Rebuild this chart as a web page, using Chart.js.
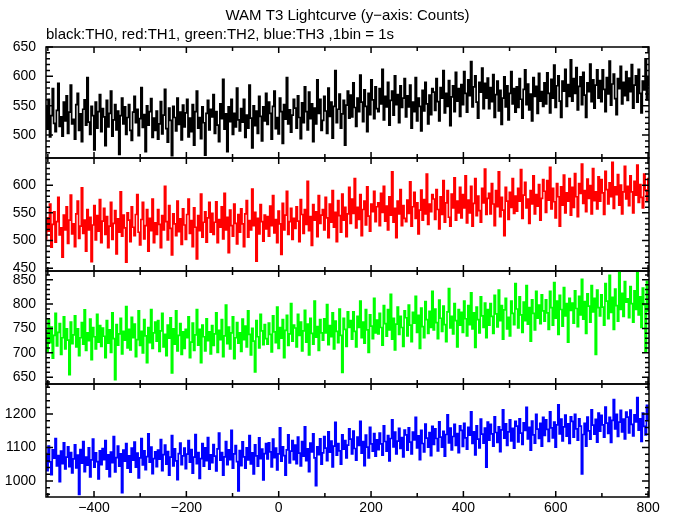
<!DOCTYPE html>
<html>
<head>
<meta charset="utf-8">
<script src="https://cdn.jsdelivr.net/npm/chart.js@4.4.1/dist/chart.umd.min.js"></script>
<style>
  html, body { margin: 0; padding: 0; background: #fff; }
  #wrap { position: relative; width: 674px; height: 515px; overflow: hidden; }
  canvas { position: absolute; left: 0; }
</style>
</head>
<body>
<div id="wrap">
  <canvas id="p0" width="674" height="168" style="top:0px"></canvas>
  <canvas id="p1" width="674" height="133" style="top:148px"></canvas>
  <canvas id="p2" width="674" height="133" style="top:261px"></canvas>
  <canvas id="p3" width="674" height="141" style="top:374px"></canvas>
</div>
<script>
// time bins (seconds), first bin and bin spacing
const binStart = -504;
const binWidth = 3;

// TH0 counts (black)
const th0 = [
  548,512,561,497,533,579,520,506,542,588,515,531,498,556,524,567,503,539,585,519,
  527,493,552,571,508,536,489,544,560,517,598,522,501,549,533,475,556,512,540,569,
  506,545,531,482,559,514,537,575,498,526,552,509,541,467,533,563,519,548,501,530,
  552,508,491,539,566,521,544,499,528,581,513,535,472,550,517,540,562,496,529,508,
  541,493,519,557,502,534,578,511,488,546,525,465,549,530,507,563,518,539,492,551,
  514,538,561,497,529,506,552,483,540,575,512,530,494,548,521,466,537,559,509,544,
  531,569,503,540,517,489,553,528,595,510,536,472,548,523,561,501,537,514,580,526,
  507,545,522,561,496,534,512,585,529,478,550,516,541,503,566,532,490,548,524,571,
  518,556,537,493,549,575,511,530,502,563,540,486,552,527,598,519,543,505,534,561,
  546,512,567,530,494,555,521,582,540,509,573,528,553,489,546,519,594,537,561,508,
  525,566,541,503,580,532,556,495,549,610,521,544,570,512,536,559,483,551,575,529,
  568,531,589,547,515,563,540,602,556,523,577,549,506,571,535,594,560,528,582,545,
  540,579,553,612,526,566,548,590,517,559,575,534,601,552,569,521,584,547,563,596,
  531,567,548,585,512,556,540,598,524,563,549,507,576,541,590,553,519,568,535,579,
  573,542,596,557,524,581,563,610,538,571,549,593,516,565,584,540,607,558,579,532,
  586,552,608,571,539,594,567,625,548,582,601,556,529,590,573,614,545,588,563,597,
  545,581,557,603,530,569,592,541,576,518,563,599,548,584,526,571,608,553,579,539,
  582,547,596,561,529,578,611,552,587,543,570,524,598,566,583,537,605,558,574,549,
  589,553,606,571,538,595,563,619,547,584,601,558,530,592,575,612,549,586,566,628,
  558,596,571,615,543,583,599,552,607,568,530,589,574,621,557,594,546,585,611,563,
  593,557,611,578,540,598,570,626,551,587,604,562,535,596,579,617,553,590,567,608,
  559,597,574,620,546,585,601,556,612,571,538,592,577,630,560,598,585
];

// TH1 counts (red)
const th1 = [
  503,541,517,566,488,529,552,497,534,578,510,523,470,546,519,561,495,537,582,512,
  530,489,548,571,504,526,595,513,537,481,556,519,542,462,528,563,501,545,517,574,
  496,535,558,511,543,487,526,569,502,531,554,476,539,515,588,508,546,523,461,550,
  537,498,561,524,509,547,583,515,492,538,569,503,527,556,481,540,518,575,496,532,
  511,556,529,487,545,519,598,534,501,563,522,474,548,530,509,571,516,539,493,557,
  528,502,547,575,513,536,489,559,524,467,545,518,584,506,533,552,497,541,569,515,
  549,511,533,570,496,538,524,561,503,585,519,542,478,555,527,508,566,531,494,547,
  515,557,530,489,548,572,506,536,519,593,527,551,463,540,512,565,534,499,546,521,
  543,508,562,527,581,514,538,496,553,530,475,567,519,546,589,511,534,558,502,540,
  522,561,535,498,574,547,513,556,529,607,518,543,491,565,537,552,507,581,531,546,
  556,519,578,541,505,566,533,590,524,551,498,572,545,515,584,537,560,507,548,596,
  531,575,549,612,523,560,538,583,509,556,571,528,597,544,517,566,552,589,534,561,
  568,527,585,551,598,535,562,519,579,546,624,533,558,505,571,548,592,527,563,540,
  534,573,549,606,526,561,587,540,568,512,555,591,537,574,548,620,529,566,552,583,
  575,538,592,556,521,579,547,608,533,568,590,542,526,584,559,613,537,571,550,596,
  541,583,559,617,532,573,550,598,526,567,612,545,580,554,533,594,568,629,547,576,
  585,548,603,566,527,590,561,624,543,578,555,509,596,571,538,587,560,612,549,580,
  553,594,571,628,540,582,605,559,575,531,590,566,617,548,583,562,601,537,576,610,
  589,551,608,573,632,557,594,570,541,603,579,526,597,564,618,550,586,571,612,546,
  596,560,621,579,543,603,585,638,567,590,552,611,576,599,548,630,572,588,557,615,
  571,610,586,547,625,592,566,604,579,641,558,597,583,619,564,600,548,588,634,575,
  598,563,617,588,550,607,582,636,569,601,578,559,620,591,572,612,586
];

// TH2 counts (green)
const th2 = [
  745,702,768,721,753,689,736,781,714,742,760,697,731,774,708,749,726,655,763,719,
  737,776,712,749,694,731,762,718,788,705,741,725,769,686,752,733,708,779,722,756,
  713,751,734,690,766,720,747,701,782,729,645,758,716,739,771,698,744,726,795,710,
  748,706,773,731,759,692,727,786,715,744,700,768,735,680,752,721,789,709,741,763,
  724,766,703,745,781,712,738,694,757,730,772,659,749,718,786,704,736,760,697,743,
  709,748,731,774,690,722,761,705,737,789,716,748,680,757,733,704,770,725,743,698,
  756,715,739,782,701,746,727,768,692,735,798,719,753,708,741,774,688,731,762,720,
  741,703,769,727,755,712,786,738,696,750,724,661,766,733,710,779,745,717,758,729,
  718,761,738,702,776,743,721,794,709,752,730,768,690,746,777,715,739,801,724,757,
  751,712,779,736,763,704,745,787,722,759,696,771,740,718,806,732,754,705,768,741,
  726,770,741,799,717,756,733,782,708,765,744,721,790,736,660,771,748,713,784,752,
  766,728,784,744,712,775,752,806,731,763,720,789,747,701,778,755,729,812,741,767,
  739,781,752,716,797,760,734,789,747,820,728,771,706,759,794,738,775,752,713,786,
  772,735,798,757,723,783,761,816,742,777,709,792,754,731,805,768,740,785,752,826,
  747,790,762,729,808,771,744,796,758,723,784,832,751,775,739,801,766,712,789,757,
  783,742,806,770,735,797,758,823,749,782,711,794,768,741,815,776,752,802,731,789,
  757,801,775,740,818,780,753,829,766,797,728,788,812,749,773,735,806,781,758,842,
  790,751,815,778,742,804,766,838,759,793,724,809,781,747,826,771,798,760,819,786,
  765,809,782,748,826,793,757,844,771,806,738,818,789,755,834,776,801,722,812,787,
  802,761,827,791,754,816,778,851,769,805,740,821,796,763,838,784,812,697,829,793,
  776,819,794,757,842,806,770,859,783,814,748,831,797,765,870,789,822,775,846,804,
  811,772,836,801,763,827,789,864,778,815,752,833,799,702,847,786,820
];

// TH3 counts (blue)
const th3 = [
  1082,1031,1104,1057,1019,1093,1068,1127,1045,1076,998,1089,1052,1114,1036,1071,1102,1043,1085,1024,
  1066,1108,1039,1077,960,1094,1053,1118,1028,1071,1047,1099,1012,1063,1125,1041,1084,1058,1006,1090,
  1049,1097,1064,1121,1035,1078,1013,1086,1055,1133,1027,1070,1104,1044,1081,965,1092,1059,1112,1038,
  1075,1026,1098,1062,1116,1041,1083,1009,1069,1127,1048,1090,1034,1073,1141,1056,1101,1022,1067,1087,
  1043,1092,1065,1124,1031,1079,1107,1050,1088,1017,1071,1136,1045,1096,1060,1004,1082,1113,1049,1075,
  1098,1037,1080,1121,1056,1094,1023,1071,1139,1052,1085,1008,1067,1112,1044,1099,1061,1130,1035,1078,
  1055,1109,1074,1030,1096,1143,1062,1085,1017,1072,1118,1049,1093,1064,1151,1038,1081,1106,1058,970,
  1091,1046,1117,1072,1038,1099,1063,1136,1051,1084,1021,1108,1075,1044,1129,1067,1095,1003,1082,1112,
  1066,1114,1087,1042,1125,1070,1098,1033,1081,1159,1059,1102,1076,1017,1093,1138,1054,1089,1121,1064,
  1107,1052,1131,1083,1045,1118,1074,1162,1061,1096,1028,1113,1087,1141,1069,986,1102,1079,1126,1050,
  1084,1133,1098,1061,1147,1086,1119,1042,1104,1175,1077,1112,1090,1050,1138,1095,1121,1069,1107,1156,
  1125,1081,1149,1097,1062,1131,1106,1178,1083,1118,1046,1137,1101,1069,1160,1111,1089,1142,1074,1123,
  1094,1143,1111,1077,1165,1118,1089,1136,1060,1127,1183,1102,1146,1081,1119,1157,1097,1130,1072,1152,
  1138,1092,1159,1116,1081,1146,1123,1190,1099,1135,1064,1151,1112,1087,1170,1128,1101,1145,1076,1163,
  1109,1156,1127,1090,1177,1131,1101,1148,1074,1139,1198,1114,1158,1093,1133,1169,1106,1142,1085,1165,
  1151,1103,1172,1129,1095,1160,1137,1207,1112,1147,1078,1165,1125,1099,1185,1140,1113,1158,1041,1176,
  1122,1169,1141,1104,1192,1145,1115,1162,1088,1153,1213,1128,1171,1106,1147,1183,1120,1157,1098,1178,
  1164,1117,1186,1143,1109,1174,1151,1220,1126,1160,1092,1179,1138,1113,1199,1155,1127,1172,1104,1190,
  1136,1183,1154,1118,1207,1159,1129,1176,1101,1168,1228,1141,1185,1120,1162,1197,1134,1171,1112,1192,
  1178,1131,1199,1156,1122,1186,1164,1021,1139,1172,1104,1191,1150,1125,1213,1167,1140,1184,1116,1203,
  1149,1196,1168,1131,1221,1173,1142,1190,1115,1181,1243,1156,1199,1133,1176,1211,1147,1185,1126,1206,
  1191,1144,1212,1169,1135,1198,1177,1249,1152,1186,1118,1203,1163,1138,1226,1181,1157
];

// y ranges and tick steps per panel: [min, max, major, minor]
const yRanges = [
  [461, 650, 50, 10],
  [445, 649, 50, 10],
  [636, 868, 50, 10],
  [952, 1290, 100, 20]
];
const xRange = [-504, 802];

Chart.defaults.font.family = "'Liberation Sans', Arial, sans-serif";
Chart.defaults.color = '#000';

const fmt = v => (v < 0 ? '\u2212' + Math.abs(v) : String(v));

// inward ticks and the panel frame, like gnuplot draws them
const frameTicks = {
  id: 'frameTicks',
  afterDatasetsDraw(chart, args, o) {
    const { ctx, chartArea: a, scales: { x, y } } = chart;
    ctx.save();
    ctx.strokeStyle = '#000';
    ctx.lineWidth = 1.5;
    ctx.beginPath();
    for (let v = -500; v <= 800; v += 100) {
      const px = x.getPixelForValue(v);
      const len = v % 200 === 0 ? 6 : 4;
      ctx.moveTo(px, a.top); ctx.lineTo(px, a.top + len);
      ctx.moveTo(px, a.bottom); ctx.lineTo(px, a.bottom - len);
    }
    for (let v = Math.ceil(y.min / o.minor) * o.minor; v <= y.max; v += o.minor) {
      const py = y.getPixelForValue(v);
      const len = v % o.major === 0 ? 7 : 4;
      ctx.moveTo(a.left, py); ctx.lineTo(a.left + len, py);
      ctx.moveTo(a.right, py); ctx.lineTo(a.right - len, py);
    }
    ctx.stroke();
    ctx.strokeRect(a.left, a.top, a.right - a.left, a.bottom - a.top);
    ctx.restore();
  }
};

function makePanel(id, values, color, range, isTop, isBottom) {
  const points = values.map((v, i) => ({ x: binStart + i * binWidth, y: v }));
  return new Chart(document.getElementById(id), {
    type: 'line',
    data: {
      datasets: [{
        data: points,
        borderColor: color,
        borderWidth: 1.7,
        stepped: 'middle',
        pointRadius: 0,
        fill: false
      }]
    },
    options: {
      responsive: false,
      animation: false,
      devicePixelRatio: 1,
      layout: { padding: { top: isTop ? 0 : 10, bottom: isBottom ? 0 : 10, left: 0, right: 25 } },
      scales: {
        x: {
          type: 'linear',
          min: xRange[0],
          max: xRange[1],
          display: isBottom,
          grid: { display: false, drawTicks: false },
          border: { display: false },
          ticks: { stepSize: 200, includeBounds: false, padding: 3, font: { size: 14 }, maxRotation: 0, callback: fmt },
          afterFit(s) {
            s.paddingLeft = 0; s.paddingRight = 0;
            if (isBottom) s.height = 18;
          }
        },
        y: {
          min: range[0],
          max: range[1],
          grid: { display: false, drawTicks: false },
          border: { display: false },
          ticks: { stepSize: range[2], includeBounds: false, padding: 10, font: { size: 14 }, callback: fmt },
          afterFit(s) {
            s.width = 46;
            s.paddingTop = 0; s.paddingBottom = 0;
          }
        }
      },
      plugins: {
        legend: { display: false },
        tooltip: { enabled: false },
        frameTicks: { major: range[2], minor: range[3] },
        title: {
          display: isTop,
          text: 'WAM T3 Lightcurve (y\u2212axis: Counts)',
          fullSize: false,
          font: { size: 15, weight: 'normal' },
          padding: { top: 7, bottom: 1 }
        },
        subtitle: {
          display: isTop,
          text: 'black:TH0, red:TH1, green:TH2, blue:TH3 ,1bin = 1s',
          fullSize: false,
          align: 'start',
          color: '#000',
          font: { size: 15, weight: 'normal' },
          padding: { top: 0, bottom: 3 }
        }
      }
    },
    plugins: [frameTicks]
  });
}

makePanel('p0', th0, '#000000', yRanges[0], true, false);
makePanel('p1', th1, '#ff0000', yRanges[1], false, false);
makePanel('p2', th2, '#00ff00', yRanges[2], false, false);
makePanel('p3', th3, '#0000ff', yRanges[3], false, true);
</script>
</body>
</html>
